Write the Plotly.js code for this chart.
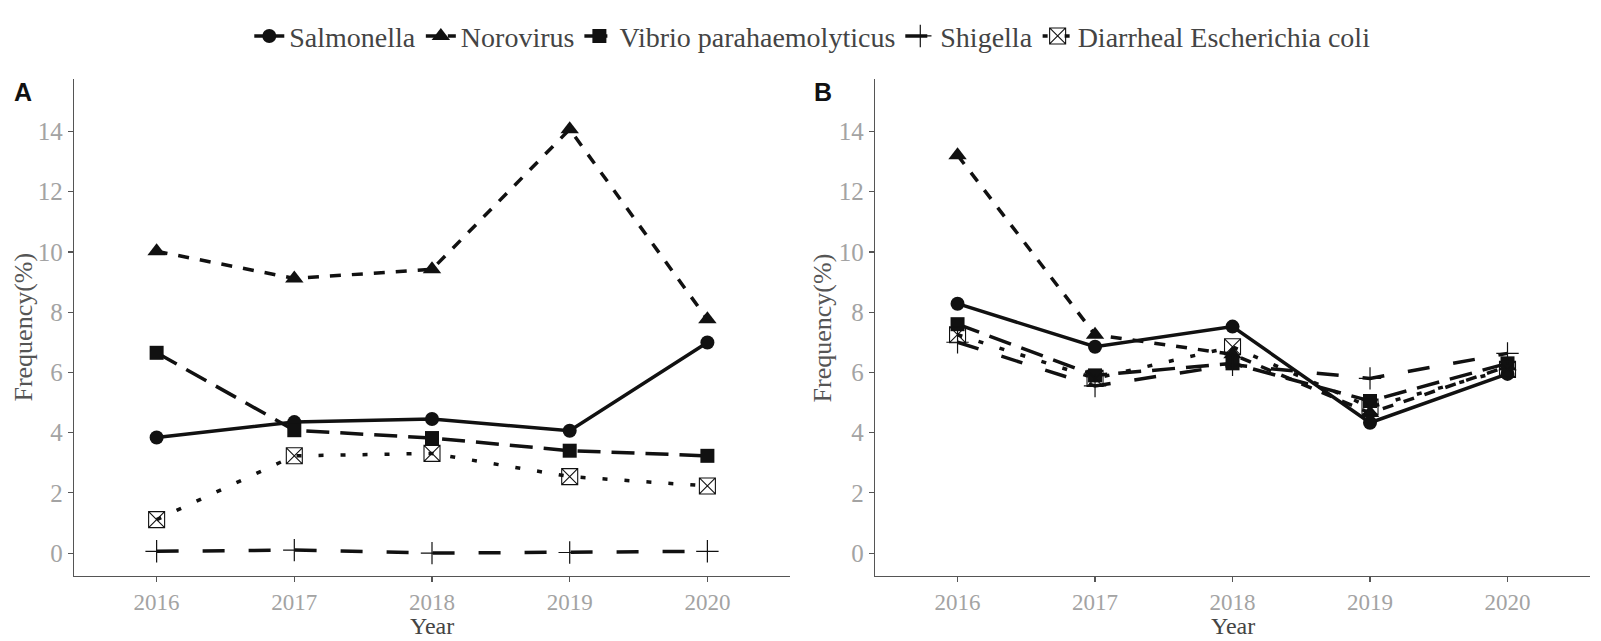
<!DOCTYPE html>
<html>
<head>
<meta charset="utf-8">
<script src="https://cdn.plot.ly/plotly-3.0.1.min.js"></script>
<style>
html,body{margin:0;padding:0;background:#fff;}
#chart{width:1601px;height:641px;}
</style>
</head>
<body>
<div id="chart"></div>
<script>
// ---- data ----
var years = ['2016', '2017', '2018', '2019', '2020'];
var seriesNames = ['Salmonella', 'Norovirus', 'Vibrio parahaemolyticus', 'Shigella', 'Diarrheal Escherichia coli'];

// Panel A
var salmonellaA = [3.84, 4.35, 4.45, 4.06, 6.99];
var norovirusA  = [10.02, 9.12, 9.42, 14.07, 7.76];
var vibrioA     = [6.65, 4.08, 3.82, 3.40, 3.23];
var shigellaA   = [0.06, 0.10, 0.00, 0.02, 0.06];
var ecoliA      = [1.11, 3.23, 3.31, 2.54, 2.23];

// Panel B
var salmonellaB = [8.28, 6.85, 7.52, 4.33, 5.95];
var norovirusB  = [13.21, 7.25, 6.60, 4.65, 6.20];
var vibrioB     = [7.60, 5.90, 6.30, 5.05, 6.30];
var shigellaB   = [7.00, 5.55, 6.25, 5.80, 6.63];
var ecoliB      = [7.25, 5.80, 6.85, 4.85, 6.10];

var yTicks = [0, 2, 4, 6, 8, 10, 12, 14];

// ---- styles ----
var styles = [
  {dash: 'solid',           symbol: 'circle',         size: 14, mline: 0},
  {dash: '11px,11px',       symbol: 'triangle-up',    size: 16, mline: 0},
  {dash: '23px,11px',       symbol: 'square',         size: 14, mline: 0},
  {dash: '22px,24px',       symbol: 'cross-thin-open',size: 16, mline: 1.2},
  {dash: '5px,17px',        symbol: 'square-x-open',  size: 16, mline: 1.1}
];

function mk(name, xs, ys, idx, axis, legend) {
  var s = styles[idx];
  return {
    type: 'scatter', mode: 'lines+markers', name: name,
    x: xs, y: ys, xaxis: axis[0], yaxis: axis[1],
    showlegend: legend, legendgroup: name,
    line: {color: '#111', width: 3.5, dash: s.dash},
    marker: {symbol: s.symbol, size: s.size, color: '#111',
             line: {color: '#111', width: s.mline}},
    hoverinfo: 'x+y+name'
  };
}

var A = ['x', 'y'], B = ['x2', 'y2'];
var dataA = [salmonellaA, norovirusA, vibrioA, shigellaA, ecoliA];
var dataB = [salmonellaB, norovirusB, vibrioB, shigellaB, ecoliB];
var traces = [];
for (var i = 0; i < 5; i++) traces.push(mk(seriesNames[i], years, dataA[i], i, A, true));
for (var j = 0; j < 5; j++) traces.push(mk(seriesNames[j], years, dataB[j], j, B, false));

var serif = 'Liberation Serif, Times New Roman, serif';
function xax(domain, anchor) {
  return {
    domain: domain, anchor: anchor, type: 'category',
    range: [-0.6, 4.6],
    showline: true, linecolor: '#555', linewidth: 1.3,
    ticks: 'outside', ticklen: 5, tickcolor: '#555', tickwidth: 1.2,
    showgrid: false, zeroline: false,
    tickfont: {family: serif, size: 23, color: '#a3a3a3'}
  };
}
function yax(anchor) {
  return {
    anchor: anchor, domain: [0, 1],
    range: [-0.76, 15.74],
    tickvals: yTicks, ticktext: yTicks.map(String),
    showline: true, linecolor: '#555', linewidth: 1.3,
    ticks: 'outside', ticklen: 5, tickcolor: '#555', tickwidth: 1.2,
    showgrid: false, zeroline: false,
    tickfont: {family: serif, size: 25, color: '#a3a3a3'}
  };
}

var labelFont = {family: 'Liberation Sans, Arial, sans-serif', size: 25, color: '#111'};
var xTitleFont = {family: serif, size: 24, color: '#444'};
var yTitleFont = {family: serif, size: 26, color: '#555'};

var layout = {
  width: 1601, height: 641,
  margin: {l: 74, r: 11, t: 75, b: 65},
  paper_bgcolor: '#fff', plot_bgcolor: '#fff',
  font: {family: serif, color: '#333'},
  xaxis: xax([0, 0.4723], 'y'),
  yaxis: yax('x'),
  xaxis2: xax([0.5284, 1], 'y2'),
  yaxis2: yax('x2'),
  showlegend: true,
  legend: {
    orientation: 'h', x: 0.487, xanchor: 'center', y: 1.086, yanchor: 'middle',
    font: {family: serif, size: 28, color: '#444'},
    itemwidth: 30, tracegroupgap: 0, bgcolor: 'rgba(0,0,0,0)'
  },
  annotations: [
    {text: '<b>A</b>', xref: 'paper', yref: 'paper', x: -0.0409, y: 0.973,
     xanchor: 'left', yanchor: 'middle', showarrow: false, font: labelFont},
    {text: '<b>B</b>', xref: 'paper', yref: 'paper', x: 0.4868, y: 0.973,
     xanchor: 'left', yanchor: 'middle', showarrow: false, font: labelFont},
    {text: 'Year', xref: 'paper', yref: 'paper', x: 0.2362, y: -0.1297,
     xanchor: 'center', yanchor: 'bottom', borderpad: 0, showarrow: false, font: xTitleFont},
    {text: 'Year', xref: 'paper', yref: 'paper', x: 0.7642, y: -0.1297,
     xanchor: 'center', yanchor: 'bottom', borderpad: 0, showarrow: false, font: xTitleFont},
    {text: 'Frequency(%)', xref: 'paper', yref: 'paper', x: -0.0336, y: 0.5,
     xanchor: 'center', yanchor: 'middle', textangle: -90, showarrow: false, font: yTitleFont},
    {text: 'Frequency(%)', xref: 'paper', yref: 'paper', x: 0.494, y: 0.5,
     xanchor: 'center', yanchor: 'middle', textangle: -90, showarrow: false, font: yTitleFont}
  ]
};

Plotly.newPlot('chart', traces, layout, {displayModeBar: false, staticPlot: true});
</script>
</body>
</html>
